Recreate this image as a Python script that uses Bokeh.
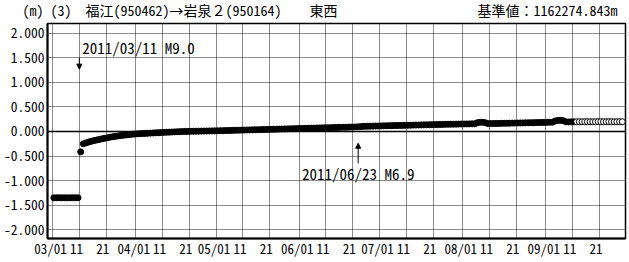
import pandas as pd
from bokeh.plotting import figure
from bokeh.models import (FixedTicker, CustomJSTickFormatter, Span, Label, Range1d,
                          PrintfTickFormatter, Arrow, NormalHead)
from bokeh.embed import file_html
from bokeh.resources import INLINE

# ---------------- data ----------------
TITLE_LEFT = "(m) (3)　福江(950462)→岩泉２(950164)　　東西"
TITLE_RIGHT = "基準値：1162274.843m"

pre_start = "2011-03-01 12:00"
pre_values = [-1.352, -1.350, -1.349, -1.351, -1.350, -1.352, -1.350, -1.349, -1.351, -1.350]

quake_day = "2011-03-11 12:00"
quake_values = [-0.415]

post_start = "2011-03-12 12:00"
mar_values = [-0.250, -0.232, -0.215, -0.200, -0.186, -0.173, -0.161, -0.149, -0.138, -0.127,
              -0.117, -0.107, -0.098, -0.090, -0.083, -0.076, -0.070, -0.064, -0.058, -0.053]
apr_values = [-0.048, -0.045, -0.042, -0.039, -0.036, -0.033, -0.030, -0.027, -0.024, -0.021,
              -0.018, -0.016, -0.013, -0.011, -0.008, -0.006, -0.003, -0.001, 0.001, 0.002,
              0.004, 0.005, 0.006, 0.007, 0.008, 0.009, 0.010, 0.011, 0.012, 0.013]
may_values = [0.014, 0.016, 0.017, 0.019, 0.020, 0.022, 0.023, 0.025, 0.026, 0.028,
              0.029, 0.031, 0.032, 0.034, 0.035, 0.037, 0.038, 0.040, 0.041, 0.043,
              0.044, 0.046, 0.047, 0.049, 0.050, 0.052, 0.053, 0.055, 0.056, 0.058, 0.060]
jun_values = [0.062, 0.063, 0.065, 0.066, 0.068, 0.069, 0.071, 0.072, 0.074, 0.075,
              0.077, 0.078, 0.080, 0.081, 0.083, 0.084, 0.086, 0.087, 0.089, 0.090,
              0.092, 0.093, 0.097, 0.103, 0.105, 0.106, 0.108, 0.109, 0.111, 0.112]
jul_values = [0.114, 0.115, 0.116, 0.118, 0.119, 0.120, 0.122, 0.123, 0.124, 0.126,
              0.127, 0.128, 0.130, 0.131, 0.132, 0.134, 0.135, 0.136, 0.138, 0.139,
              0.140, 0.142, 0.143, 0.144, 0.146, 0.147, 0.148, 0.149, 0.150, 0.151, 0.152]
aug_values = [0.153, 0.154, 0.155, 0.156, 0.157, 0.180, 0.188, 0.186, 0.178, 0.160,
              0.161, 0.162, 0.163, 0.165, 0.166, 0.167, 0.168, 0.169, 0.171, 0.172,
              0.173, 0.174, 0.175, 0.177, 0.178, 0.179, 0.180, 0.182, 0.183, 0.184, 0.185]
sep_values = [0.186, 0.188, 0.190, 0.215, 0.225, 0.228, 0.220, 0.196, 0.195, 0.196, 0.197]

open_start = "2011-09-12 12:00"
open_values = [0.198, 0.199, 0.198, 0.199, 0.200, 0.199, 0.198, 0.199, 0.200,
               0.199, 0.198, 0.199, 0.200, 0.199, 0.198, 0.199, 0.200, 0.199]

grid_dates = ["2011-03-01", "2011-03-11", "2011-03-21", "2011-04-01", "2011-04-11", "2011-04-21",
              "2011-05-01", "2011-05-11", "2011-05-21", "2011-06-01", "2011-06-11", "2011-06-21",
              "2011-07-01", "2011-07-11", "2011-07-21", "2011-08-01", "2011-08-11", "2011-08-21",
              "2011-09-01", "2011-09-11", "2011-09-21"]
tick_labels = ["03/01", "11", "21", "04/01", "11", "21", "05/01", "11", "21", "06/01", "11", "21",
               "07/01", "11", "21", "08/01", "11", "21", "09/01", "11", "21"]
y_ticks = [-2.0, -1.5, -1.0, -0.5, 0.0, 0.5, 1.0, 1.5, 2.0]

eq1_date, eq1_text = "2011-03-11", "2011/03/11 M9.0"
eq2_date, eq2_text = "2011-06-23", "2011/06/23 M6.9"

# ---------------- styling / layout ----------------
FONT = "Noto Sans Mono CJK JP"
HEADER_GAP = "\u3000" * 10
x_start, x_end = "2011-02-27 03:00", "2011-09-30 17:00"
label_shift_days = {"01": -0.75, "11": -1.1, "21": -1.3}
DAY = 86400000.0


def ms(d):
    return pd.Timestamp(d).value / 1e6


def series(start, vals):
    return pd.date_range(start, periods=len(vals), freq="D")


post_values = mar_values + apr_values + may_values + jun_values + jul_values + aug_values + sep_values
filled_x = list(series(pre_start, pre_values)) + list(series(quake_day, quake_values)) + list(series(post_start, post_values))
filled_y = pre_values + quake_values + post_values
open_x = list(series(open_start, open_values))

p = figure(width=629, height=262, output_backend="svg", toolbar_location=None,
           x_axis_type="datetime",
           x_range=Range1d(ms(x_start), ms(x_end)), y_range=Range1d(-2.18, 2.2),
           min_border_left=47, min_border_right=4, min_border_top=23, min_border_bottom=24)
p.background_fill_color = "white"
p.border_fill_color = "white"
p.outline_line_color = "black"
p.outline_line_width = 1.5

grid_ms = [ms(d) for d in grid_dates]
lo = ms(x_start) + 0.1 * DAY
label_ms = [max(lo, ms(d) + label_shift_days[lab[-2:]] * DAY) for d, lab in zip(grid_dates, tick_labels)]

xa = p.xaxis[0]
xa.ticker = FixedTicker(ticks=label_ms)
xa.formatter = CustomJSTickFormatter(
    args=dict(pos=label_ms, labels=tick_labels),
    code="for (let i = 0; i < pos.length; i++) { if (Math.abs(tick - pos[i]) < 60000) return labels[i]; } return '';")
ya = p.yaxis[0]
ya.ticker = FixedTicker(ticks=y_ticks)
ya.formatter = PrintfTickFormatter(format="%.3f")

for ax in (xa, ya):
    ax.major_tick_line_color = None
    ax.minor_tick_line_color = None
    ax.major_tick_out = 0
    ax.major_tick_in = 0
    ax.minor_tick_out = 0
    ax.minor_tick_in = 0
    ax.axis_line_color = "black"
    ax.axis_line_width = 2
    ax.major_label_text_font = FONT
    ax.major_label_text_color = "black"

xa.major_label_standoff = 0
xa.major_label_text_font_size = "13px"
ya.major_label_standoff = 3
ya.major_label_text_font_size = "13.5px"

p.xgrid[0].ticker = FixedTicker(ticks=grid_ms)
for g in (p.xgrid[0], p.ygrid[0]):
    g.grid_line_color = "black"
    g.grid_line_dash = "1 1"
    g.grid_line_width = 1
    g.grid_line_alpha = 0.9

p.add_layout(Span(location=0, dimension="width", line_color="black", line_width=1.5))

p.scatter(filled_x, filled_y, size=6, marker="circle", fill_color="black", line_color="black")
p.scatter(open_x, open_values, size=6, marker="circle", fill_color="white", line_color="black", line_width=1)

# earthquake annotations
p.add_layout(Arrow(end=NormalHead(size=5, fill_color="black", line_color="black"),
                   x_start=ms(eq1_date), y_start=1.50, x_end=ms(eq1_date), y_end=1.27,
                   line_color="black", line_width=1))
p.add_layout(Label(x=ms(eq1_date), y=1.72, x_offset=3, text=eq1_text, text_font=FONT,
                   text_font_size="15px", text_baseline="middle", text_align="left", text_color="black"))
p.add_layout(Arrow(end=NormalHead(size=5, fill_color="black", line_color="black"),
                   x_start=ms(eq2_date), y_start=-0.65, x_end=ms(eq2_date), y_end=-0.24,
                   line_color="black", line_width=1))
p.add_layout(Label(x=ms(eq2_date), y=-0.855, text=eq2_text, text_font=FONT,
                   text_font_size="15px", text_baseline="middle", text_align="center", text_color="black"))

# header line in the panel above the frame
p.add_layout(Label(x=-25, y=14, x_units="screen", y_units="screen", text=TITLE_LEFT + HEADER_GAP + TITLE_RIGHT,
                   text_font=FONT, text_font_size="14px", text_baseline="middle", text_align="left",
                   text_color="black"), "above")

open("out.html", "w").write(file_html(p, INLINE))
